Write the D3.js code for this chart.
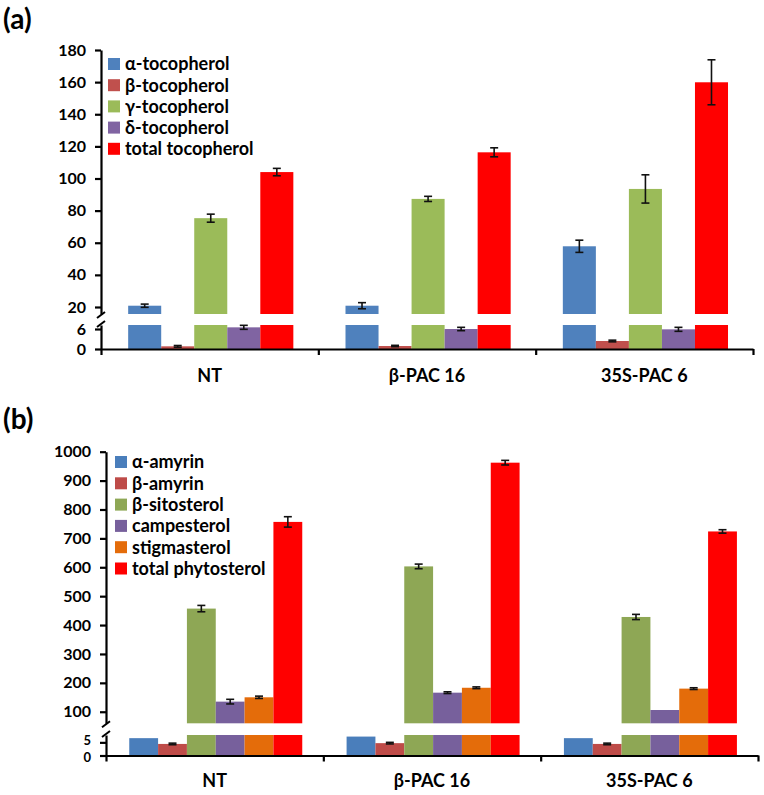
<!DOCTYPE html>
<html><head><meta charset="utf-8">
<script src="https://cdn.jsdelivr.net/npm/d3@7/dist/d3.min.js"></script>
<style>
body{margin:0;background:#fff}
svg text{font-family:Lato,"Liberation Sans",Arial,sans-serif;font-weight:bold;fill:#000}
</style>
</head><body>
<svg id="chart" width="764" height="795"></svg>
<script>
// ---------- shared ----------
const categories = ["NT", "β-PAC 16", "35S-PAC 6"];

// ---------- panel (a): tocopherols ----------
const tocoSeries = ["α-tocopherol", "β-tocopherol", "γ-tocopherol", "δ-tocopherol", "total tocopherol"];
const tocoColors = ["#4F81BD", "#C0504D", "#9BBB59", "#8064A2", "#FF0000"];
const alphaToco    = [20.8, 20.8, 57.8];
const alphaTocoErr = [1.0, 1.9, 3.8];
const betaToco     = [0.8, 0.9, 2.4];
const betaTocoErr  = [0.25, 0.2, 0.25];
const gammaToco    = [75.3, 87.3, 93.5];
const gammaTocoErr = [2.5, 1.6, 8.8];
const deltaToco    = [6.5, 6.0, 5.9];
const deltaTocoErr = [0.6, 0.5, 0.6];
const totalToco    = [104.0, 116.3, 159.9];
const totalTocoErr = [2.3, 2.8, 14.0];
const tocoUpperTicks = [20, 40, 60, 80, 100, 120, 140, 160, 180];
const tocoLowerTicks = [0, 6];

// ---------- panel (b): phytosterols ----------
const sterolSeries = ["α-amyrin", "β-amyrin", "β-sitosterol", "campesterol", "stigmasterol", "total phytosterol"];
const sterolColors = ["#4A7EBB", "#BE4B48", "#8EA755", "#77609C", "#E46C0A", "#FF0000"];
const alphaAmyrin     = [6.6, 7.2, 6.6];
const alphaAmyrinErr  = [0, 0, 0];
const betaAmyrin      = [4.4, 4.7, 4.4];
const betaAmyrinErr   = [0.3, 0.3, 0.3];
const sitosterol      = [457, 603, 428];
const sitosterolErr   = [11, 8, 9];
const campesterol     = [135, 166, 106];
const campesterolErr  = [8, 3, 0];
const stigmasterol    = [150, 183, 180];
const stigmasterolErr = [4, 3, 3];
const totalSterol     = [757, 962, 724];
const totalSterolErr  = [18, 8, 6];
const sterolUpperTicks = [100, 200, 300, 400, 500, 600, 700, 800, 900, 1000];
const sterolLowerTicks = [0, 5];

const svg = d3.select("#chart");

function drawPanel(o) {
  const g = svg.append("g");
  const xb = d3.scaleBand().domain(categories).range([o.x0, o.x1]);
  const bw = xb.bandwidth();
  const xs = d3.scaleBand().domain(o.series).range([bw * o.inner[0], bw * o.inner[1]]);
  const yU = d3.scaleLinear().domain(o.upDomain).range([o.upBot, o.upTop]);
  const yL = d3.scaleLinear().domain([0, o.lowMax]).range([o.axisY, o.lowTop]);

  const rows = [];
  o.series.forEach((s, i) => categories.forEach((c, j) => {
    rows.push({s, c, i, v: o.values[i][j], e: o.errs[i][j]});
  }));

  // lower segment bars
  g.selectAll("rect.low").data(rows).join("rect").attr("class", "low")
    .attr("x", d => xb(d.c) + xs(d.s)).attr("width", xs.bandwidth())
    .attr("y", d => yL(Math.min(d.v, o.lowMax)))
    .attr("height", d => o.axisY - yL(Math.min(d.v, o.lowMax)))
    .attr("fill", d => o.colors[d.i]);
  // upper segment bars
  g.selectAll("rect.up").data(rows.filter(d => d.v > o.lowMax)).join("rect").attr("class", "up")
    .attr("x", d => xb(d.c) + xs(d.s)).attr("width", xs.bandwidth())
    .attr("y", d => yU(d.v))
    .attr("height", d => yU(o.upDomain[0]) - yU(d.v))
    .attr("fill", d => o.colors[d.i]);

  // error bars
  const eg = g.append("g").attr("stroke", "#111").attr("stroke-width", 1.6);
  rows.filter(d => d.e > 0).forEach(d => {
    const sc = d.v > o.lowMax ? yU : yL;
    const cx = xb(d.c) + xs(d.s) + xs.bandwidth() / 2;
    const yT = sc(d.v + d.e), yB = sc(d.v - d.e);
    eg.append("line").attr("x1", cx).attr("x2", cx).attr("y1", yT).attr("y2", yB);
    eg.append("line").attr("x1", cx - o.cap).attr("x2", cx + o.cap).attr("y1", yT).attr("y2", yT);
    eg.append("line").attr("x1", cx - o.cap).attr("x2", cx + o.cap).attr("y1", yB).attr("y2", yB);
  });

  // y axes (upper and lower)
  const styleAxis = fs => sel => {
    sel.selectAll("path.domain").attr("stroke", "#000").attr("stroke-width", 2.2);
    sel.selectAll(".tick line").attr("stroke", "#000").attr("stroke-width", 2.2);
    sel.selectAll(".tick text").attr("font-size", fs).attr("fill", "#000")
      .attr("font-family", "Lato, 'Liberation Sans', sans-serif").attr("font-weight", "bold");
  };
  g.append("g").attr("transform", `translate(${o.x0},0)`)
    .call(d3.axisLeft(yU).tickValues(o.upTicks).tickFormat(d3.format("d")).tickSize(6).tickSizeOuter(0).tickPadding(9))
    .call(styleAxis(o.tickFont));
  const lowAx = g.append("g").attr("transform", `translate(${o.x0},0)`)
    .call(d3.axisLeft(yL).tickValues(o.lowTicks).tickFormat(d3.format("d")).tickSize(6).tickSizeOuter(0).tickPadding(9))
    .call(styleAxis(o.lowTickFont));
  // nudge the two tightly spaced lower labels apart
  lowAx.selectAll(".tick text").attr("transform", (d, i) => `translate(0,${o.lowNudge[i]})`);

  // break marks on y axis
  const bk = g.append("g").attr("stroke", "#000").attr("stroke-width", 2);
  [o.upBot + 1, o.lowTop - 1].forEach(yy => {
    bk.append("line").attr("x1", o.x0 - 4).attr("x2", o.x0 + 4).attr("y1", yy + 3).attr("y2", yy - 3);
  });

  // x axis with boundary ticks
  const xl = d3.scaleLinear().domain([0, categories.length]).range([o.x0, o.x1]);
  g.append("g").attr("transform", `translate(0,${o.axisY})`)
    .call(d3.axisBottom(xl).tickValues(d3.range(categories.length + 1)).tickFormat(() => "").tickSize(6).tickSizeOuter(0))
    .call(sel => {
      sel.selectAll("path.domain").attr("stroke", "#000").attr("stroke-width", 2.2);
      sel.selectAll(".tick line").attr("stroke", "#000").attr("stroke-width", 2.2);
    });
  g.selectAll("text.cat").data(categories).join("text").attr("class", "cat")
    .attr("x", d => xb(d) + bw / 2).attr("y", o.axisY + o.catDy)
    .attr("text-anchor", "middle").attr("font-size", 18).text(d => d);

  // legend
  const lg = g.append("g");
  o.series.forEach((s, i) => {
    const cy = o.legY + i * o.legStep;
    lg.append("rect").attr("x", o.legX).attr("y", cy - 6).attr("width", 12).attr("height", 12).attr("fill", o.colors[i]);
    lg.append("text").attr("x", o.legX + 17).attr("y", cy).attr("dy", "0.36em")
      .attr("font-size", o.legFont).text(s);
  });

  // panel label
  g.append("text").attr("x", 3).attr("y", o.labelY).attr("font-size", 28)
    .attr("font-family", "'Liberation Sans', Arial, sans-serif").text(o.label);
}

drawPanel({
  label: "(a)", labelY: 29,
  x0: 101, x1: 753, axisY: 349,
  upTop: 50, upBot: 314, lowTop: 325,
  upDomain: [15.64, 180], lowMax: 7.2,
  upTicks: tocoUpperTicks, lowTicks: tocoLowerTicks,
  series: tocoSeries, colors: tocoColors,
  values: [alphaToco, betaToco, gammaToco, deltaToco, totalToco],
  errs: [alphaTocoErr, betaTocoErr, gammaTocoErr, deltaTocoErr, totalTocoErr],
  inner: [0.125, 0.885], cap: 4,
  tickFont: 16, lowTickFont: 16, lowNudge: [0, 0], catDy: 33,
  legX: 108, legY: 64, legStep: 21.2, legFont: 18
});

drawPanel({
  label: "(b)", labelY: 429,
  x0: 106, x1: 758, axisY: 755.5,
  upTop: 451.7, upBot: 723.3, lowTop: 735,
  upDomain: [60, 1000], lowMax: 7.8,
  upTicks: sterolUpperTicks, lowTicks: sterolLowerTicks,
  series: sterolSeries, colors: sterolColors,
  values: [alphaAmyrin, betaAmyrin, sitosterol, campesterol, stigmasterol, totalSterol],
  errs: [alphaAmyrinErr, betaAmyrinErr, sitosterolErr, campesterolErr, stigmasterolErr, totalSterolErr],
  inner: [0.107, 0.903], cap: 4,
  tickFont: 16, lowTickFont: 13, lowNudge: [1.5, -2], catDy: 31,
  legX: 115, legY: 462, legStep: 21.3, legFont: 18
});
</script>
</body></html>
